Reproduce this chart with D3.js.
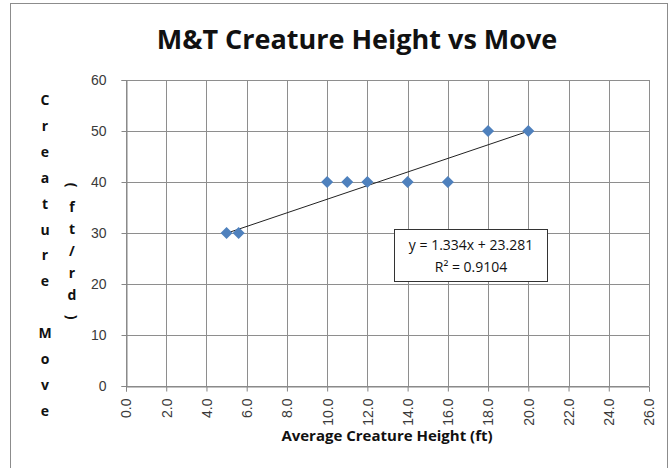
<!DOCTYPE html>
<html>
<head>
<meta charset="utf-8">
<script src="https://cdn.jsdelivr.net/npm/d3@7"></script>
<style>
  body { margin: 0; background: #fff; }
  svg { display: block; }
</style>
</head>
<body>
<svg id="chart" width="671" height="468"></svg>
<script>
// data
const heights = [5, 5.6, 10, 11, 12, 14, 16, 18, 20]
const moves = [30, 30, 40, 40, 40, 40, 40, 50, 50]
const xTicks = [0, 2, 4, 6, 8, 10, 12, 14, 16, 18, 20, 22, 24, 26]
const yTicks = [0, 10, 20, 30, 40, 50, 60]
const trendSlope = 1.334
const trendIntercept = 23.281
const trendR2 = 0.9104

const svg = d3.select("#chart")
let margin = { left: 126, right: 20, top: 80, bottom: 82 }

// outer chart frame
svg.append("rect")
    .attr("x", 10.5).attr("y", 3.5)
    .attr("width", 657).attr("height", 500)
    .attr("fill", "#fff")
    .attr("stroke", "#8c8c8c")

let x = d3.scaleLinear().domain([0, 26]).range([margin.left, 649])
let y = d3.scaleLinear().domain([0, 60]).range([386, margin.top])

// grid
svg.append("g").selectAll("line")
    .data(xTicks).enter().append("line")
    .attr("x1", d => Math.round(x(d)) + 0.5).attr("x2", d => Math.round(x(d)) + 0.5)
    .attr("y1", y(60)).attr("y2", y(0))
    .attr("stroke", "#8e8e8e")
svg.append("g").selectAll("line")
    .data(yTicks).enter().append("line")
    .attr("x1", x(0)).attr("x2", x(26))
    .attr("y1", d => Math.round(y(d)) + 0.5).attr("y2", d => Math.round(y(d)) + 0.5)
    .attr("stroke", "#8e8e8e")

// axes
let xAxis = svg.append("g")
    .attr("transform", "translate(0," + (Math.round(y(0)) + 0.5) + ")")
    .call(d3.axisBottom(x).tickValues(xTicks).tickSize(5).tickFormat(d3.format(".1f")))
xAxis.selectAll("text")
    .attr("transform", "rotate(-90)")
    .attr("text-anchor", "end")
    .attr("x", -12).attr("y", 0).attr("dy", "0.35em")
xAxis.selectAll("line").attr("stroke", "#868686")
xAxis.select(".domain").attr("stroke", "#868686")

let yAxis = svg.append("g")
    .attr("transform", "translate(" + (Math.round(x(0)) + 0.5) + ",0)")
    .call(d3.axisLeft(y).tickValues(yTicks).tickSize(5))
yAxis.selectAll("text").attr("x", -20)
yAxis.selectAll("line").attr("stroke", "#868686")
yAxis.select(".domain").attr("stroke", "#868686")

svg.selectAll(".tick text")
    .style("font-family", "'Liberation Sans', Arial, sans-serif")
    .style("font-size", "14px")
    .attr("fill", "#3a3a3a")

// trendline
let trendX = d3.extent(heights)
svg.append("line")
    .attr("x1", x(trendX[0])).attr("y1", y(trendSlope * trendX[0] + trendIntercept))
    .attr("x2", x(trendX[1])).attr("y2", y(trendSlope * trendX[1] + trendIntercept))
    .attr("stroke", "#222")
    .attr("stroke-width", 1)

// points (diamonds)
svg.append("g").selectAll("path")
    .data(heights.map((h, i) => [h, moves[i]]))
    .enter().append("path")
    .attr("d", d3.symbol().type(d3.symbolSquare).size(72))
    .attr("transform", d => "translate(" + x(d[0]) + "," + y(d[1]) + ") rotate(45)")
    .attr("fill", "#4f81bd")

// equation box
let box = svg.append("g").attr("transform", "translate(394,229)")
box.append("rect")
    .attr("x", 0.5).attr("y", 0.5).attr("width", 153).attr("height", 52)
    .attr("fill", "#fff").attr("stroke", "#333")
let eqText = box.append("text")
    .attr("text-anchor", "middle")
    .style("font-family", "'Open Sans', sans-serif")
    .style("font-size", "14px")
    .attr("fill", "#111")
eqText.append("tspan").attr("x", 77).attr("y", 21)
    .text("y = " + trendSlope + "x + " + trendIntercept)
eqText.append("tspan").attr("x", 77).attr("y", 43)
    .text("R² = " + trendR2)

// title
svg.append("text")
    .attr("x", 357).attr("y", 49)
    .attr("text-anchor", "middle")
    .style("font-family", "'Open Sans', sans-serif")
    .style("font-weight", "bold")
    .style("font-size", "27px")
    .attr("fill", "#111")
    .text("M&T Creature Height vs Move")

// x title
svg.append("text")
    .attr("x", 387).attr("y", 441)
    .attr("text-anchor", "middle")
    .style("font-family", "'Open Sans', sans-serif")
    .style("font-weight", "bold")
    .style("font-size", "15px")
    .attr("fill", "#111")
    .text("Average Creature Height (ft)")

// y title, stacked letters like Excel
let yTitle1 = "Creature Move".split("")
svg.append("g").selectAll("text")
    .data(yTitle1).enter().append("text")
    .attr("x", 45)
    .attr("y", (d, i) => 105 + i * 25.9)
    .attr("text-anchor", "middle")
    .style("font-family", "'Open Sans', sans-serif")
    .style("font-weight", "bold")
    .style("font-size", "14px")
    .attr("fill", "#111")
    .text(d => d)

let yTitle2 = "(ft/rd)".split("")
svg.append("g").selectAll("text")
    .data(yTitle2).enter().append("text")
    .attr("transform", (d, i) => {
        let yy = 190 + i * 22
        if (d == "(" || d == ")") return "translate(72," + (yy - 5) + ") rotate(90)"
        return "translate(72," + yy + ")"
    })
    .attr("text-anchor", "middle")
    .attr("dy", d => (d == "(" || d == ")") ? "0.35em" : 0)
    .style("font-family", "'Open Sans', sans-serif")
    .style("font-weight", "bold")
    .style("font-size", "14px")
    .attr("fill", "#111")
    .text(d => d)
</script>
</body>
</html>
